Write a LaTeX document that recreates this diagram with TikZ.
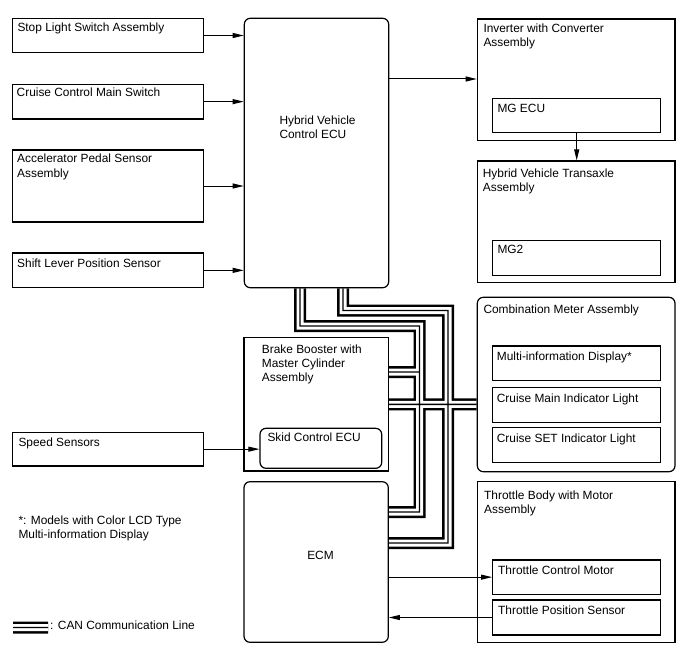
\documentclass[tikz,border=0pt]{standalone}
\usepackage{fontspec}
\setmainfont{Liberation Sans}
\usetikzlibrary{arrows.meta,calc}
\pgfdeclarelayer{bg}
\pgfsetlayers{bg,main}
\newcommand\bx[6]{\node[#6, minimum width={#4-#2}, minimum height={#5-#3}] (#1) at ({(#2+#4)/2},{(#3+#5)/2}) {};}
\newcommand\tl[1]{\begin{tabular}[t]{@{}l@{}}#1\end{tabular}}
\begin{document}
\begin{tikzpicture}[x=1pt,y=-1pt,
  box/.style={draw, line width=1.2pt, fill=white, inner sep=0pt},
  rbox/.style={box, rounded corners=6pt},
  txt/.style={anchor=base west, inner sep=0pt, font=\fontsize{11.9}{14}\selectfont},
  arr/.style={line width=1pt, -{Triangle[length=11pt,width=5pt]}},
  canA/.style={line width=12pt, black},
  canB/.style={line width=7pt, white},
  canC/.style={line width=1.4pt, black}]
\useasboundingbox (0,0) rectangle (688,658);

% boxes
\bx{stop}{12.7}{18.3}{203.7}{52.7}{box}
\bx{cruise}{12.7}{84.3}{203.7}{119}{box}
\bx{accel}{12.7}{150}{203.7}{222}{box}
\bx{shift}{12.7}{253}{203.7}{287.7}{box}
\bx{hv}{244.3}{18.3}{388.7}{287.7}{rbox}
\bx{inv}{477.3}{19}{675}{140.7}{box}
\bx{mgecu}{492.7}{98.3}{660.7}{132.7}{box}
\bx{trans}{477.3}{161}{675}{282.7}{box}
\bx{mg2}{492.7}{240.7}{660.7}{275.3}{box}
\bx{comb}{477.3}{297.3}{675}{471.7}{rbox}
\bx{mid}{492.7}{346}{660.7}{380.7}{box}
\bx{cmil}{492.7}{387.7}{660.7}{422.7}{box}
\bx{csil}{492.7}{427.7}{660.7}{462.7}{box}
\bx{tb}{477.3}{481.7}{675}{642.3}{box}
\bx{tcm}{492.7}{560}{660.7}{594.3}{box}
\bx{tps}{492.7}{600}{660.7}{635}{box}
\bx{bb}{244}{337.7}{388.3}{471}{box}
\bx{skid}{260}{428.3}{381.7}{468.3}{rbox}
\bx{speed}{12.7}{432.3}{203.7}{466}{box}
\bx{ecm}{244}{481.7}{388.3}{642.3}{rbox}

% texts
\node[txt] (t1) at (17.3,31.3) {Stop Light Switch Assembly};
\node[txt] (t2) at (16.5,97) {Cruise Control Main Switch};
\node[txt] (t3) at (17,163) {\tl{Accelerator Pedal Sensor\\Assembly}};
\node[txt] (t4) at (17,267) {Shift Lever Position Sensor};
\node[txt] (t5) at (279.3,124.3) {\tl{Hybrid Vehicle\\Control ECU}};
\node[txt] (t6) at (483.3,32.6) {\tl{Inverter with Converter\\Assembly}};
\node[txt] (t7) at (497.3,113) {MG ECU};
\node[txt] (t8) at (482.7,177) {\tl{Hybrid Vehicle Transaxle\\Assembly}};
\node[txt] (t9) at (497.3,253.6) {MG2};
\node[txt] (t10) at (483.3,313.6) {Combination Meter Assembly};
\node[txt] (t11) at (496.7,360.3) {Multi-information Display*};
\node[txt] (t12) at (496.7,402.6) {Cruise Main Indicator Light};
\node[txt] (t13) at (496.7,442) {Cruise SET Indicator Light};
\node[txt] (t14) at (484,499.6) {\tl{Throttle Body with Motor\\Assembly}};
\node[txt] (t15) at (498,574.6) {Throttle Control Motor};
\node[txt] (t16) at (498,614.6) {Throttle Position Sensor};
\node[txt] (t17) at (261.7,353) {\tl{Brake Booster with\\Master Cylinder\\Assembly}};
\node[txt] (t18) at (267.3,441) {Skid Control ECU};
\node[txt] (t19) at (18.3,446) {Speed Sensors};
\node[txt, anchor=base] (t20) at (320.5,559.6) {ECM};
\node[txt] (t21) at (18.3,524.3) {\tl{*: Models with Color LCD Type\\Multi-information Display}};
\node[txt] (t22) at (50,629.3) {: CAN Communication Line};

% arrows
\draw[arr] (stop.east) -- (stop.east -| hv.west);
\draw[arr] (cruise.east) -- (cruise.east -| hv.west);
\draw[arr] (accel.east) -- (accel.east -| hv.west);
\draw[arr] (shift.east) -- (shift.east -| hv.west);
\coordinate (hvo) at (388.7,79);
\draw[arr] (hvo) -- (hvo -| inv.west);
\draw[arr] (mgecu.south) -- (mgecu.south |- trans.north);
\draw[arr] (speed.east) -- (speed.east -| skid.west);
\draw[arr] (ecm.east |- tcm.west) -- (tcm.west);
\draw[arr] (tps.west) -- (ecm.east |- tps.west);

% CAN lines
\coordinate (ka) at (419.5,326);
\coordinate (kb) at (448,310.5);
\coordinate (ja) at (419.5,372);
\coordinate (l1) at (13,627.5);
\coordinate (l2) at (48,627.5);
\def\canall{([xshift=-16.5pt]hv.south) |- (ka) |- ([yshift=50pt]ecm.east)
  ([xshift=26.5pt]hv.south) |- (kb) |- ([yshift=19pt]ecm.east)
  ([yshift=32.35pt]bb.east) -- (ja)
  (bb.east) -- (bb.east -| comb.west)
  (l1) -- (l2)}
\begin{pgfonlayer}{bg}
\draw[canA] \canall;
\draw[canB] \canall;
\draw[canC] \canall;
\end{pgfonlayer}
\end{tikzpicture}
\end{document}
